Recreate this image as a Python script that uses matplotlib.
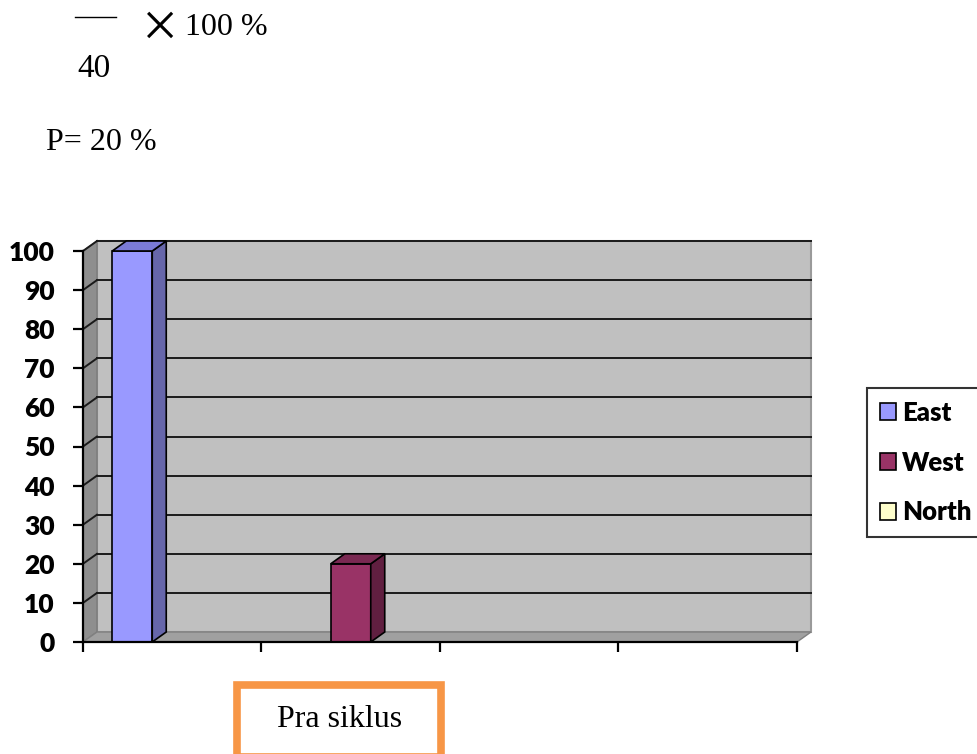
import matplotlib.pyplot as plt
import matplotlib.patches as mpatches
from matplotlib.lines import Line2D
import numpy as np

categories = ['1', '2', '3', '4']
series_names = ['East', 'West', 'North']
east = [100, 0, 0, 0]
west = [0, 20, 0, 0]
north = [0, 0, 0, 0]
y_ticks = [0, 10, 20, 30, 40, 50, 60, 70, 80, 90, 100]

front_colors = ['#9999FF', '#993366', '#FFFFCC']
side_colors = ['#6666AA', '#601F40', '#B0B08A']
top_colors = ['#7B7BD6', '#7A2952', '#E0E0B0']

W, H = 978, 754
fig = plt.figure(figsize=(W / 100, H / 100), dpi=100)

def px(x0, y0, x1, y1):
    # pixel box (top-left origin) -> figure fraction rect
    return [x0 / W, 1 - y1 / H, (x1 - x0) / W, (y1 - y0) / H]

ax = fig.add_axes(px(83, 251, 797, 642))
ax.set_xlim(0, len(categories))
ax.set_ylim(0, 100)
ax.patch.set_visible(False)

# depth of the 3D effect, in data units
dx = 14 / 714 * len(categories)
dy = 10 / 391 * 100
n = len(categories)

# walls and floor
back = mpatches.Rectangle((dx, dy), n, 100, facecolor='#C0C0C0', edgecolor='#9A9A9A',
                          lw=1.5, clip_on=False, zorder=0)
side = mpatches.Polygon([(0, 0), (dx, dy), (dx, 100 + dy), (0, 100)], closed=True,
                        facecolor='#8E8E8E', edgecolor='#7A7A7A', lw=1, clip_on=False, zorder=0)
floor = mpatches.Polygon([(0, 0), (n, 0), (n + dx, dy), (dx, dy)], closed=True,
                         facecolor='#A0A0A0', edgecolor='#808080', lw=1, clip_on=False, zorder=0)
for p in (back, side, floor):
    ax.add_patch(p)

for v in y_ticks[1:]:
    ax.plot([dx, n + dx], [v + dy, v + dy], color='#1a1a1a', lw=1.4, clip_on=False, zorder=1)
    ax.plot([0, dx], [v, v + dy], color='#1a1a1a', lw=1.4, clip_on=False, zorder=1)

# bars
x = np.arange(n) + 0.5
bw = 40 / 714 * n
handles = []
for i, (name, vals) in enumerate(zip(series_names, [east, west, north])):
    pos = x + (i - 1) * bw
    bars = ax.bar(pos, vals, width=bw, color=front_colors[i], edgecolor='black',
                  lw=1.2, label=name, zorder=3, clip_on=False)
    handles.append(bars)
    for xp, v in zip(pos, vals):
        if v <= 0:
            continue
        l, r = xp - bw / 2, xp + bw / 2
        ax.add_patch(mpatches.Polygon([(r, 0), (r + dx, dy), (r + dx, v + dy), (r, v)],
                                      closed=True, facecolor=side_colors[i], edgecolor='black',
                                      lw=1.2, clip_on=False, zorder=3))
        ax.add_patch(mpatches.Polygon([(l, v), (r, v), (r + dx, v + dy), (l + dx, v + dy)],
                                      closed=True, facecolor=top_colors[i], edgecolor='black',
                                      lw=1.2, clip_on=False, zorder=3))

# axes
for s in ['top', 'right']:
    ax.spines[s].set_visible(False)
for s in ['left', 'bottom']:
    ax.spines[s].set_linewidth(1.6)
    ax.spines[s].set_zorder(4)
ax.set_yticks(y_ticks)
ax.set_xticks(np.arange(n + 1))
ax.set_xticklabels([])
ax.tick_params(axis='both', length=7.5, width=1.6, direction='out')
ax.tick_params(axis='y', pad=13)
for lab in ax.get_yticklabels():
    lab.set_fontfamily('Lato')
    lab.set_fontweight('heavy')
    lab.set_fontsize(19)

leg = fig.legend(handles=handles, loc='upper left', bbox_to_anchor=(867 / W, 1 - 388 / H),
                 prop={'family': 'Lato', 'weight': 'heavy', 'size': 18.5},
                 frameon=True, fancybox=False, edgecolor='black', borderpad=0.5,
                 handlelength=0.62, handleheight=0.62, handletextpad=0.25, labelspacing=1.0,
                 borderaxespad=0)
leg.get_frame().set_linewidth(1.5)

# text above the chart
serif = 'Liberation Serif'
fig.add_artist(Line2D([75 / W, 116 / W], [1 - 17 / H, 1 - 17 / H], color='black', lw=1))
fig.text(159 / W, 1 - 24 / H, r'$\times$', math_fontfamily='stix', fontsize=34,
         ha='center', va='center')
fig.text(185 / W, 1 - 35 / H, '100 %', family=serif, fontsize=23, va='baseline')
fig.text(77 / W, 1 - 77 / H, '40', family=serif, fontsize=24, va='baseline')
fig.text(46 / W, 1 - 150 / H, 'P= 20 %', family=serif, fontsize=23, va='baseline')

# label box below
fig.add_artist(mpatches.Rectangle((237 / W, 1 - 757 / H), (441 - 237) / W, (757 - 685) / H,
                                  transform=fig.transFigure, facecolor='white',
                                  edgecolor='#F79646', lw=5.5))
fig.text(340 / W, 1 - 727 / H, 'Pra siklus', family=serif, fontsize=23, ha='center', va='baseline')

fig.savefig('out.png', dpi=100)
